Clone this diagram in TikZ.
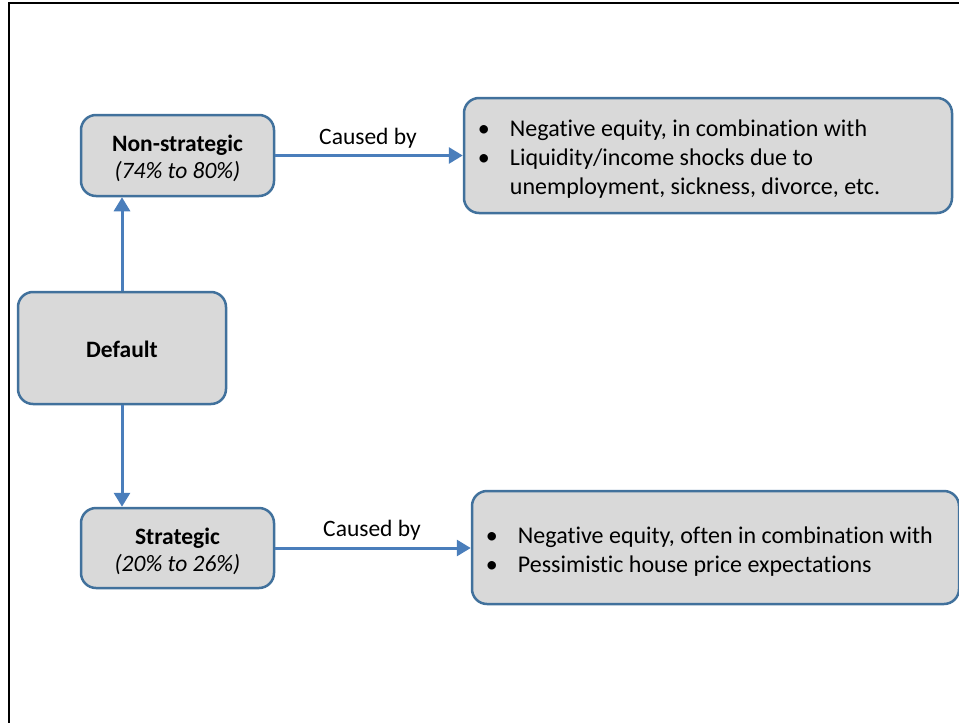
\documentclass[tikz,border=0pt]{standalone}
\usepackage{fontspec}
\setmainfont{Carlito}[RawFeature={-liga}]
\usetikzlibrary{arrows.meta}
\definecolor{boxfill}{HTML}{D9D9D9}
\definecolor{boxdraw}{HTML}{41719C}
\definecolor{arrowc}{HTML}{4A7EBB}
\tikzset{
  box/.style={draw=boxdraw, fill=boxfill, line width=2.5pt, rounded corners=15pt, inner sep=0pt},
  boxtext/.style={inner sep=0pt, align=center, font=\fontsize{23.5}{27}\selectfont},
  listtext/.style={inner sep=0pt, align=left, font=\fontsize{24}{29}\selectfont},
  conn/.style={draw=arrowc, line width=3pt, -{Triangle[length=14pt,width=16pt]}},
  lbl/.style={font=\fontsize{23.5}{27}\selectfont, inner sep=0pt},
  frame/.style={line width=2.5pt, black}
}
\newcommand{\bul}{\makebox[32pt][l]{\textbullet}}
\begin{document}
\begin{tikzpicture}[x=1pt,y=-1pt]
\useasboundingbox (0,0) rectangle (959,723);
\coordinate (ftl) at (9,3);
\coordinate (ftr) at (960,3);
\coordinate (fbl) at (9,724);
\draw[frame] (fbl) -- (ftl) -- (ftr);
\node[box, minimum width=193pt, minimum height=81pt] (ns) at (177.5,155.5) {};
\node[box, minimum width=208pt, minimum height=112pt] (def) at (122,348) {};
\node[box, minimum width=193pt, minimum height=80pt] (st) at (177.5,548) {};
\node[box, minimum width=488pt, minimum height=115pt] (r1) at (708,155.5) {};
\node[box, minimum width=487pt, minimum height=113pt] (r2) at (715.5,547.5) {};
\node[boxtext] (nsT) at ([yshift=-3pt]ns.center) {\textbf{Non-strategic}\\\textit{(74\% to 80\%)}};
\node[boxtext] (defT) at ([yshift=-1pt]def.center) {\textbf{Default}};
\node[boxtext] (stT) at ([yshift=-3pt]st.center) {\textbf{Strategic}\\\textit{(20\% to 26\%)}};
\node[listtext, anchor=west] (r1T) at ([xshift=15pt,yshift=-4pt]r1.west) {\bul Negative equity, in combination with\\\bul Liquidity/income shocks due to\\\hspace*{32pt}unemployment, sickness, divorce, etc.};
\node[listtext, anchor=west] (r2T) at ([xshift=15pt,yshift=-4pt]r2.west) {\bul Negative equity, often in combination with\\\bul Pessimistic house price expectations};
\draw[conn] (def.north -| 122,0) -- (ns.south -| 122,0);
\draw[conn] (def.south -| 122,0) -- (st.north -| 122,0);
\draw[conn] (ns.east) -- (r1.west |- ns.east);
\draw[conn] (st.east) -- (r2.west |- st.east);
\node[lbl] (c1) at (368,138) {Caused by};
\node[lbl] (c2) at (372,530) {Caused by};
\end{tikzpicture}
\end{document}
